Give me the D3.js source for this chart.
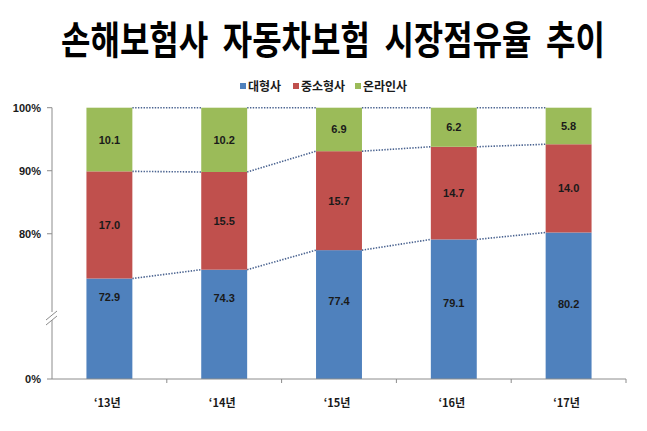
<!DOCTYPE html>
<html><head><meta charset="utf-8">
<script src="https://cdn.jsdelivr.net/npm/d3@7"></script>
<style>body{margin:0;background:#fff;}svg{display:block;}</style>
</head><body>
<script>
const categories = ["‘13년","‘14년","‘15년","‘16년","‘17년"];
const seriesNames = ["대형사","중소형사","온라인사"];
const large = [72.9,74.3,77.4,79.1,80.2];
const small = [17.0,15.5,15.7,14.7,14.0];
const online = [10.1,10.2,6.9,6.2,5.8];
const yTicks = [0,80,90,100];
const colors = ["#4f81bd","#c0504d","#9bbb59"];

const W=647,H=431;
const svg=d3.select("body").append("svg").attr("width",W).attr("height",H);
const font="'Noto Sans CJK KR','Liberation Sans',sans-serif";
const numFont="'Liberation Sans',Arial,sans-serif";

svg.append("text").attr("transform","scale(1,1.2)")
  .attr("x",333).attr("y",54.5/1.2).attr("text-anchor","middle")
  .attr("font-family",font).attr("font-weight","bold").attr("font-size",32)
  .attr("fill","#000").attr("xml:space","preserve").style("white-space","pre")
  .text("손해보험사  자동차보험  시장점유율  추이");

const x=d3.scaleBand().domain(categories).range([52,626]).paddingInner(0.6).paddingOuter(0.3);
const y=d3.scaleLinear().domain([0,66,100]).range([379,322,107.7]);

const rows=categories.map((c,i)=>({c,vals:[large[i],small[i],online[i]]}));
const stack=d3.stack().keys([0,1,2]).value((d,k)=>d.vals[k])(rows);

// dotted connectors
const g=svg.append("g");
stack.forEach(layer=>{
  for(let i=0;i<categories.length-1;i++){
    g.append("line")
     .attr("x1",x(categories[i])+x.bandwidth()).attr("x2",x(categories[i+1]))
     .attr("y1",y(layer[i][1])).attr("y2",y(layer[i+1][1]))
     .attr("stroke","#4a6390").attr("stroke-width",1.6).attr("stroke-dasharray","1.4,1.4");
  }
});

const y0top=y(large[0]);
stack.forEach((layer,k)=>{
  svg.append("g").selectAll("rect").data(layer).join("rect")
    .attr("x",(d,i)=>x(categories[i])).attr("width",x.bandwidth())
    .attr("y",d=>y(d[1])).attr("height",d=>y(d[0])-y(d[1]))
    .attr("fill",colors[k]);
  svg.append("g").selectAll("text").data(layer).join("text")
    .attr("x",(d,i)=>x(categories[i])+x.bandwidth()/2)
    .attr("y",d=>k===0? 297-0.15*(y(d[1])-y0top)+4 : (y(d[0])+y(d[1]))/2+4)
    .attr("text-anchor","middle").attr("font-family",numFont).attr("font-weight","bold")
    .attr("font-size",11).attr("fill","#1a1a1a")
    .text((d,i)=>rows[i].vals[k].toFixed(1));
});

// axes
const axisColor="#8c8c8c";
svg.append("line").attr("x1",52).attr("x2",52).attr("y1",y(100)).attr("y2",y(0)).attr("stroke",axisColor);
svg.append("line").attr("x1",52).attr("x2",626).attr("y1",y(0)).attr("y2",y(0)).attr("stroke",axisColor);
yTicks.forEach(t=>{
  svg.append("line").attr("x1",47).attr("x2",52).attr("y1",y(t)).attr("y2",y(t)).attr("stroke",axisColor);
  svg.append("text").attr("x",41).attr("y",y(t)+4).attr("text-anchor","end")
    .attr("font-family",numFont).attr("font-weight","bold").attr("font-size",11).attr("fill","#1a1a1a").text(t+"%");
});
categories.forEach((c,i)=>{
  const bx=x.step()*(i+1)+52;
  svg.append("line").attr("x1",bx).attr("x2",bx).attr("y1",y(0)).attr("y2",y(0)+4).attr("stroke",axisColor);
  svg.append("text").attr("x",x(c)+x.bandwidth()/2-2).attr("y",407).attr("text-anchor","middle")
    .attr("font-family",font).attr("font-weight","bold").attr("font-size",11).attr("fill","#1a1a1a").text(c);
});
// axis break
svg.append("rect").attr("x",50).attr("y",312).attr("width",5).attr("height",8).attr("fill","#fff");
[0,5].forEach(o=>{
  svg.append("line").attr("x1",46).attr("y1",320+o).attr("x2",57).attr("y2",311+o).attr("stroke","#8c8c8c").attr("stroke-width",1);
});

// legend
const lx=[243,296,358];
seriesNames.forEach((s,i)=>{
  svg.append("rect").attr("x",lx[i]-3).attr("y",83).attr("width",6).attr("height",6).attr("fill",colors[i]);
  svg.append("text").attr("x",lx[i]+5).attr("y",90.5).attr("font-family",font).attr("font-weight","bold")
    .attr("font-size",12).attr("fill","#1a1a1a").text(s);
});
</script>
</body></html>
